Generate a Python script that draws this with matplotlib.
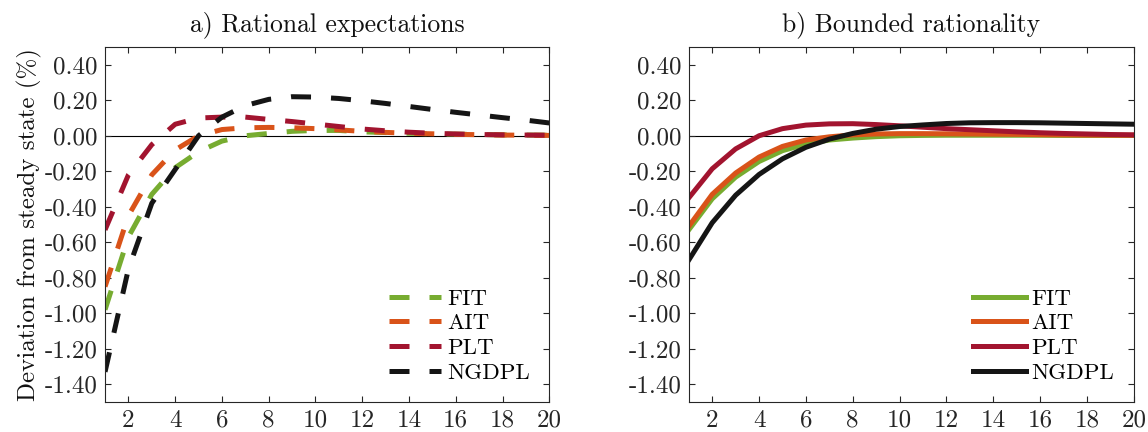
import matplotlib
matplotlib.use("Agg")
import matplotlib.pyplot as plt
import numpy as np

plt.rcParams['font.family'] = ['cmr10', 'DejaVu Serif']
plt.rcParams['axes.unicode_minus'] = False

periods = list(range(1, 21))

# a) Rational expectations (dashed)
re_fit = [-0.98, -0.57, -0.33, -0.18, -0.09, -0.03, 0.00, 0.013, 0.025, 0.03,
          0.03, 0.022, 0.018, 0.014, 0.011, 0.009, 0.007, 0.005, 0.004, 0.003]
re_ait = [-0.85, -0.45, -0.22, -0.08, 0.00, 0.035, 0.045, 0.047, 0.045, 0.04,
          0.033, 0.025, 0.019, 0.014, 0.011, 0.008, 0.006, 0.004, 0.003, 0.002]
re_plt = [-0.53, -0.22, -0.05, 0.065, 0.10, 0.105, 0.105, 0.092, 0.08, 0.066,
          0.052, 0.038, 0.028, 0.02, 0.014, 0.01, 0.007, 0.005, 0.004, 0.003]
re_ngdpl = [-1.33, -0.75, -0.38, -0.19, 0.00, 0.105, 0.17, 0.205, 0.22, 0.218,
            0.21, 0.197, 0.182, 0.165, 0.148, 0.132, 0.117, 0.102, 0.088, 0.072]

# b) Bounded rationality (solid)
br_fit = [-0.53, -0.355, -0.233, -0.145, -0.084, -0.047, -0.024, -0.013, -0.005, 0.0,
          0.002, 0.003, 0.003, 0.003, 0.003, 0.003, 0.002, 0.002, 0.002, 0.002]
br_ait = [-0.51, -0.33, -0.21, -0.12, -0.06, -0.024, -0.006, 0.005, 0.01, 0.012,
          0.012, 0.011, 0.010, 0.009, 0.008, 0.006, 0.005, 0.004, 0.003, 0.003]
br_plt = [-0.35, -0.186, -0.074, 0.0, 0.04, 0.06, 0.067, 0.068, 0.063, 0.056,
          0.048, 0.04, 0.034, 0.028, 0.022, 0.017, 0.013, 0.01, 0.007, 0.005]
br_ngdpl = [-0.70, -0.49, -0.335, -0.218, -0.13, -0.065, -0.019, 0.013, 0.037, 0.052,
            0.061, 0.069, 0.073, 0.074, 0.074, 0.073, 0.071, 0.069, 0.067, 0.065]

labels = ['FIT', 'AIT', 'PLT', 'NGDPL']
colors = ['#77AC30', '#D95319', '#A2142F', '#151515']
titles = ['a) Rational expectations', 'b) Bounded rationality']
yticks = [-1.4, -1.2, -1.0, -0.8, -0.6, -0.4, -0.2, 0.0, 0.2, 0.4]
ytick_labels = ['-1.40', '-1.20', '-1.00', '-0.80', '-0.60', '-0.40', '-0.20', '0.00', '0.20', '0.40']
xticks = list(range(2, 21, 2))

fig = plt.figure(figsize=(11.48, 4.32), dpi=100)
ax1 = fig.add_axes([0.0915, 0.0694, 0.387, 0.8218])
ax2 = fig.add_axes([0.600, 0.0694, 0.3876, 0.8218])

fs = 18
lw = 3.6
for ax, series, dashed, title in [
        (ax1, [re_fit, re_ait, re_plt, re_ngdpl], True, titles[0]),
        (ax2, [br_fit, br_ait, br_plt, br_ngdpl], False, titles[1])]:
    ax.axhline(0, color='black', lw=0.8, zorder=1)
    for vals, lab, c in zip(series, labels, colors):
        if dashed:
            ax.plot(periods, vals, color=c, lw=lw, label=lab,
                    linestyle=(0, (4.0, 4.0)), zorder=2)
        else:
            ax.plot(periods, vals, color=c, lw=lw, label=lab, zorder=2)
    ax.set_xlim(1, 20)
    ax.set_ylim(-1.5, 0.5)
    ax.set_xticks(xticks)
    ax.set_xticklabels([str(t) for t in xticks])
    ax.set_yticks(yticks)
    ax.set_yticklabels(ytick_labels)
    ax.tick_params(direction='in', top=True, right=True, length=4, width=0.8,
                   labelsize=fs, colors='#262626', pad=5.5)
    for sp in ax.spines.values():
        sp.set_color('#262626')
        sp.set_linewidth(0.8)
    ax.set_title(title, fontsize=18.5, pad=11, color='#111111')
    ax.legend(loc='lower right', frameon=False, fontsize=16.5,
              handlelength=2.3, handletextpad=0.25, labelspacing=0.2,
              borderaxespad=0.45)

ax1.set_ylabel('Deviation from steady state (%)', fontsize=fs, color='#111111', labelpad=2)

fig.savefig('out.png', dpi=100)
